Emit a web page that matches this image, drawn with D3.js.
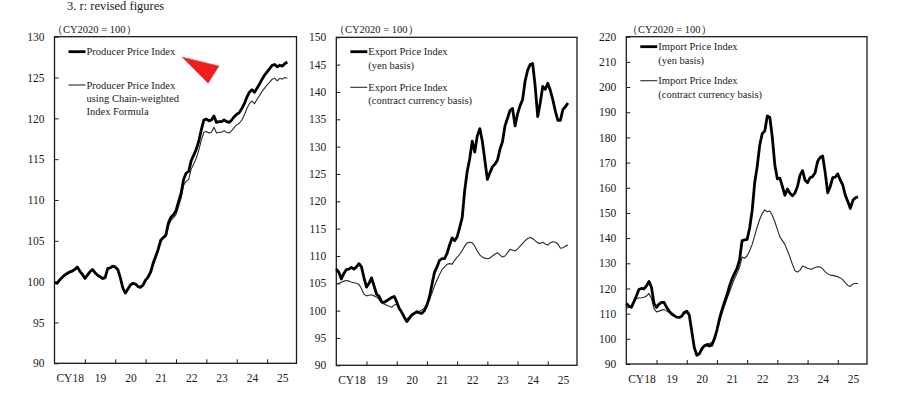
<!DOCTYPE html>
<html>
<head>
<meta charset="utf-8">
<script src="https://cdn.jsdelivr.net/npm/d3@7"></script>
<style>
  body { margin: 0; background: #fff; }
  svg { display: block; font-family: "Liberation Serif", "Times New Roman", serif; }
</style>
</head>
<body>
<svg id="chart" width="900" height="399"></svg>
<script>
// monthly values, Jan 2018 .. Sep 2025 (CY2020 = 100)
const ppi = [
  99.9, 99.8, 100.2, 100.5, 100.8, 101.0, 101.2, 101.3, 101.5, 101.8, 101.3, 100.9,
  100.4, 100.8, 101.2, 101.5, 101.1, 100.8, 100.6, 100.4, 100.5, 101.6, 101.7, 101.9,
  101.8, 101.5, 100.5, 99.2, 98.6, 99.1, 99.6, 99.8, 99.7, 99.4, 99.3, 99.6,
  100.2, 100.6, 101.2, 102.3, 103.1, 104.0, 105.1, 105.4, 105.7, 107.2, 107.9, 108.2,
  108.7, 109.8, 110.8, 112.5, 113.3, 113.5, 114.8, 115.5, 116.2, 117.2, 118.6, 119.8,
  119.9, 119.7, 119.8, 120.3, 119.5, 119.6, 119.6, 119.8, 119.6, 119.5, 119.8, 120.2,
  120.5, 120.7, 121.2, 121.8, 122.6, 123.2, 123.5, 123.2, 123.7, 124.2, 124.8, 125.3,
  125.7, 126.1, 126.5, 126.6, 126.3, 126.5, 126.4, 126.7, 126.9
];
const ppiChain = [
  99.9, 99.8, 100.1, 100.4, 100.7, 100.9, 101.1, 101.2, 101.4, 101.7, 101.2, 100.8,
  100.3, 100.7, 101.1, 101.4, 101.0, 100.7, 100.5, 100.3, 100.4, 101.5, 101.6, 101.8,
  101.7, 101.4, 100.4, 99.1, 98.6, 99.0, 99.5, 99.7, 99.7, 99.4, 99.3, 99.6,
  100.1, 100.4, 101.0, 102.0, 102.9, 103.8, 104.9, 105.3, 105.5, 106.8, 107.5, 107.8,
  108.2, 109.2, 110.2, 111.8, 112.3, 112.5, 113.8, 114.4, 115.1, 116.1, 117.3, 118.3,
  118.4, 118.2, 118.3, 118.9, 118.2, 118.3, 118.3, 118.5, 118.3, 118.2, 118.5, 118.9,
  119.2, 119.4, 119.8, 120.4, 121.2, 121.8, 122.1, 121.8, 122.3, 122.8, 123.3, 123.7,
  124.1, 124.4, 124.8, 124.9, 124.6, 124.9, 124.8, 125.0, 124.9
];
const exportYen = [
  107.6, 107.0, 105.8, 106.8, 107.5, 107.6, 107.9, 107.6, 108.0, 108.6, 108.0, 106.0,
  104.3, 105.0, 106.0, 104.5, 103.0, 102.6, 101.6, 101.5, 101.8, 102.1, 102.4, 102.6,
  101.6, 100.4, 99.7, 98.8, 98.0, 98.6, 99.2, 99.5, 99.8, 99.6, 99.5, 100.0,
  101.0, 102.5, 104.8, 107.0, 108.0, 109.2, 109.5, 109.5, 110.5, 112.0, 113.3, 112.8,
  113.5, 115.2, 117.0, 122.0, 125.5, 127.8, 131.0, 129.0, 132.0, 133.3, 131.0, 127.5,
  124.0, 125.2, 126.3, 126.8, 127.5, 129.5, 130.9, 133.8, 135.2, 136.6, 137.0, 133.8,
  136.0, 137.5, 138.6, 142.0, 144.0, 145.0, 145.2, 141.0, 135.5, 138.0, 141.0, 140.5,
  141.6, 140.3, 138.6, 136.5, 134.8, 134.8, 136.8, 137.3, 138.0
];
const exportContract = [
  104.9, 105.0, 105.2, 105.4, 105.5, 105.4, 105.2, 105.1, 105.0, 104.8, 104.0, 103.0,
  102.7, 102.8, 102.9, 102.7, 102.5, 102.0, 101.4, 101.2, 101.0, 100.8, 100.6, 101.0,
  101.2, 100.6, 99.5, 98.8, 98.4, 98.9, 99.4, 99.6, 99.8, 99.9, 100.1, 100.5,
  101.2, 102.0, 103.2, 104.5, 105.6, 106.6, 107.5, 108.0, 108.5, 108.6, 108.5, 109.2,
  109.8, 110.3, 111.0, 111.8, 112.4, 112.5, 112.4, 111.8, 110.9, 110.2, 109.8, 109.6,
  109.5, 109.6, 110.0, 110.3, 110.6, 110.2, 109.8, 110.0, 110.6, 111.2, 111.1, 110.9,
  111.3, 111.8, 112.3, 112.8, 113.2, 113.4, 113.2, 112.8, 112.4, 112.3, 112.5, 112.2,
  112.0, 112.4, 112.6, 112.5, 112.2, 111.4, 111.5, 111.8, 112.0
];
const importYen = [
  114.0, 113.0, 112.5, 114.7, 117.0, 119.6, 120.0, 119.8, 121.0, 122.8, 120.5, 114.0,
  112.5, 113.8, 114.5, 114.5, 112.5, 111.0, 110.0, 109.2, 108.6, 108.5, 109.0, 110.5,
  111.0, 109.5, 103.0, 96.5, 93.5, 94.0, 96.0, 97.2, 97.6, 97.2, 97.5, 100.0,
  103.5, 108.0, 111.5, 114.5, 117.5, 121.0, 123.8, 126.0, 128.0, 131.5, 139.0, 139.3,
  139.5, 144.0, 151.0, 162.0, 168.5, 177.0, 181.5, 182.5, 188.5, 188.0, 180.0, 169.0,
  163.5, 163.8, 160.5, 157.0, 159.5, 157.8, 156.8, 158.0, 160.5, 165.0, 166.8, 163.0,
  162.0, 164.0, 164.5, 166.0, 170.5, 172.0, 172.6, 166.0, 158.0, 160.5, 164.0, 164.2,
  165.5, 163.0, 161.0, 157.0, 154.5, 151.8, 155.0, 156.0, 156.4
];
const importContract = [
  112.0, 112.5, 112.8, 114.5, 116.0, 116.2, 116.3, 116.5, 117.0, 118.0, 116.0, 112.0,
  110.7, 111.0, 111.4, 111.6, 111.0, 110.5, 109.5, 109.0, 108.7, 108.5, 109.0, 110.0,
  110.5, 109.5, 103.5, 97.0, 94.0, 94.5, 96.5, 97.5, 98.0, 98.2, 98.5, 100.5,
  103.0, 106.5, 110.0, 113.0, 116.0, 118.5, 121.5, 124.0, 126.0, 128.5, 132.5, 132.0,
  133.0, 135.0, 137.5, 141.0, 144.5, 147.5, 149.8, 151.2, 150.5, 150.8, 149.0, 146.5,
  143.5, 140.5, 139.0, 137.5, 135.0, 132.5, 129.5, 127.0, 126.5, 127.3, 128.9, 128.5,
  128.0, 127.7, 127.8, 128.3, 128.6, 128.5, 127.8, 126.6, 125.8, 125.3, 125.2, 124.9,
  124.7, 124.2, 123.5, 122.2, 121.2, 120.8, 121.8, 122.0, 122.0
];

const yearLabels = ["CY18", "19", "20", "21", "22", "23", "24", "25"];
const yearTicks = [12, 24, 36, 48, 60, 72, 84];          // month index of each January
const labelMonths = [6, 18, 30, 42, 54, 66, 78, 90];      // mid-year
const ticks1 = [90, 95, 100, 105, 110, 115, 120, 125, 130];
const ticks2 = [90, 95, 100, 105, 110, 115, 120, 125, 130, 135, 140, 145, 150];
const ticks3 = [90, 100, 110, 120, 130, 140, 150, 160, 170, 180, 190, 200, 210, 220];

const unitLabel = "（CY2020 = 100）";
// red arrowhead in panel 1, in data units [month, index]
const arrowMark = [[50.4, 127.5], [65, 126.4], [60.7, 124.3]];

const panels = [
  { left: 54.5, right: 296.5, top: 36.7, bottom: 363.3, ticks: ticks1,
    thick: ppi, thin: ppiChain,
    thickText: ["Producer Price Index"],
    thinText: ["Producer Price Index", "using Chain-weighted", "Index Formula"],
    legendY: [51.7, 85], unitX: 52 },
  { left: 336.3, right: 577, top: 37.3, bottom: 365.3, ticks: ticks2,
    thick: exportYen, thin: exportContract,
    thickText: ["Export Price Index", "(yen basis)"],
    thinText: ["Export Price Index", "(contract currency basis)"],
    legendY: [51.7, 87.3], unitX: 334 },
  { left: 626.3, right: 867, top: 36.7, bottom: 364, ticks: ticks3,
    thick: importYen, thin: importContract,
    thickText: ["Import Price Index", "(yen basis)"],
    thinText: ["Import Price Index", "(contract currency basis)"],
    legendY: [46.7, 80.7], unitX: 627 }
];

const svg = d3.select("#chart");
const ink = "#1a1a1a";

// note at the very top
svg.append("text")
  .attr("x", 67).attr("y", 9.5)
  .attr("font-size", 12.5).attr("fill", ink)
  .text("3. r: revised figures");

panels.forEach((p, k) => {
  const x = d3.scaleLinear().domain([0, 96]).range([p.left, p.right + 1]);
  const y = d3.scaleLinear()
    .domain(d3.extent(p.ticks))
    .range([p.bottom, p.top]);

  const g = svg.append("g");

  // y axis, ticks pointing inward
  g.append("g")
    .attr("transform", `translate(${p.left},0)`)
    .call(d3.axisLeft(y).tickValues(p.ticks).tickSizeInner(-4).tickSizeOuter(0).tickPadding(10))
    .call(a => a.select(".domain").remove())
    .call(a => a.selectAll("line").attr("stroke", ink).attr("stroke-width", 1))
    .call(a => a.selectAll("text")
      .attr("font-family", "Liberation Serif, serif")
      .attr("font-size", 11.5).attr("fill", ink));

  // x axis year separators
  g.append("g")
    .attr("transform", `translate(0,${p.bottom})`)
    .call(d3.axisBottom(x).tickValues(yearTicks).tickSizeInner(-4).tickSizeOuter(0).tickFormat(""))
    .call(a => a.select(".domain").remove())
    .call(a => a.selectAll("line").attr("stroke", ink).attr("stroke-width", 1));

  // year labels centred in each year
  g.append("g")
    .attr("transform", `translate(0,${p.bottom})`)
    .call(d3.axisBottom(x).tickValues(labelMonths).tickSize(0).tickPadding(11)
      .tickFormat((d, i) => yearLabels[i]))
    .call(a => a.select(".domain").remove())
    .call(a => a.selectAll("text")
      .attr("font-family", "Liberation Serif, serif")
      .attr("font-size", 11.5).attr("fill", ink));

  // frame
  g.append("rect")
    .attr("x", p.left).attr("y", p.top)
    .attr("width", p.right - p.left).attr("height", p.bottom - p.top)
    .attr("fill", "none").attr("stroke", ink).attr("stroke-width", 1.3);

  g.append("text")
    .attr("x", p.unitX).attr("y", p.top - 4)
    .attr("font-size", 10.5).attr("fill", ink)
    .text(unitLabel);

  const line = d3.line()
    .x((d, i) => x(i))
    .y(d => y(d));

  g.append("path")
    .datum(p.thin)
    .attr("fill", "none").attr("stroke", "#2a2a2a").attr("stroke-width", 1.1)
    .attr("stroke-linejoin", "round")
    .attr("d", line);

  g.append("path")
    .datum(p.thick)
    .attr("fill", "none").attr("stroke", "#000").attr("stroke-width", 2.8)
    .attr("stroke-linejoin", "round")
    .attr("d", line);

  // legend
  const lx = p.left + 14;
  const entries = [
    { text: p.thickText, w: 2.8, c: "#000", ly: p.legendY[0] },
    { text: p.thinText, w: 1.1, c: "#2a2a2a", ly: p.legendY[1] }
  ];
  entries.forEach(e => {
    g.append("line")
      .attr("x1", lx).attr("x2", lx + 17)
      .attr("y1", e.ly).attr("y2", e.ly)
      .attr("stroke", e.c).attr("stroke-width", e.w);
    g.append("text")
      .attr("font-size", 10.5).attr("fill", ink)
      .selectAll("tspan")
      .data(e.text)
      .join("tspan")
      .attr("x", lx + 18)
      .attr("y", (d, i) => e.ly + 3.6 + i * 13.3)
      .text(d => d);
  });

  if (k === 0) {
    g.append("path")
      .attr("d", d3.line().x(d => x(d[0])).y(d => y(d[1]))(arrowMark) + "Z")
      .attr("fill", "#ee1c1c")
      .attr("stroke", "#f25a5a").attr("stroke-width", 0.8);
  }
});
</script>
</body>
</html>
